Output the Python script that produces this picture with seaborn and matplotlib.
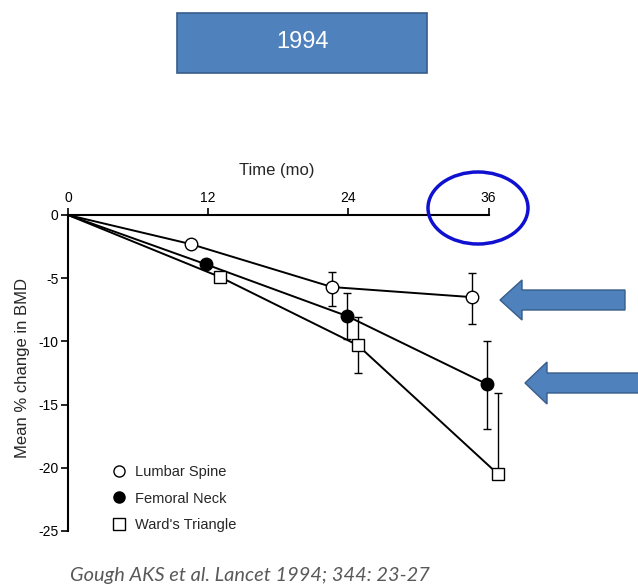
import numpy as np
import pandas as pd
import seaborn as sns
import matplotlib.pyplot as plt
from matplotlib.lines import Line2D
from matplotlib.patches import Ellipse, Polygon, Rectangle

sns.set_theme(style="white")
plt.rcParams['font.family'] = ['Liberation Sans', 'DejaVu Sans']
plt.rcParams['axes.unicode_minus'] = False

# values (months, mean % change)
series = ["Lumbar Spine", "Femoral Neck", "Ward's Triangle"]
lumbar_x = [0, 10.5, 22.6, 34.6]
lumbar_y = [0, -2.3, -5.7, -6.5]
femoral_x = [0, 11.8, 23.9, 35.9]
femoral_y = [0, -3.9, -8.0, -13.4]
wards_x = [0, 13.0, 24.8, 36.8]
wards_y = [0, -4.9, -10.3, -20.5]

# error bars (lower, upper) for each plotted point after the origin
lumbar_err_lo = [0, 1.5, 2.1]
lumbar_err_hi = [0, 1.2, 1.9]
femoral_err_lo = [0, 1.8, 3.5]
femoral_err_hi = [0, 1.8, 3.4]
wards_err_lo = [0, 2.2, 0]
wards_err_hi = [0, 2.2, 6.4]

x_ticks = [0, 12, 24, 36]
y_ticks = [0, -5, -10, -15, -20, -25]

df = pd.concat([
    pd.DataFrame({"time": lumbar_x, "change": lumbar_y, "site": series[0]}),
    pd.DataFrame({"time": femoral_x, "change": femoral_y, "site": series[1]}),
    pd.DataFrame({"time": wards_x, "change": wards_y, "site": series[2]}),
])

errs = {
    series[0]: (lumbar_err_lo, lumbar_err_hi),
    series[1]: (femoral_err_lo, femoral_err_hi),
    series[2]: (wards_err_lo, wards_err_hi),
}
styles = {
    series[0]: dict(marker="o", mfc="white", ms=9),
    series[1]: dict(marker="o", mfc="black", ms=9),
    series[2]: dict(marker="s", mfc="white", ms=8.5),
}

W, H = 638, 586
fig = plt.figure(figsize=(W / 100, H / 100), dpi=100)
ax = fig.add_axes([68 / W, 1 - 531 / H, (512 - 68) / W, (531 - 215) / H])

for name in series:
    sub = df[df.site == name]
    lo, hi = errs[name]
    ax.errorbar(sub.time.values[1:], sub.change.values[1:], yerr=[lo, hi],
                fmt="none", ecolor="black", elinewidth=1, capsize=3, capthick=1, zorder=2)
    st = styles[name]
    sns.lineplot(data=sub, x="time", y="change", ax=ax, color="black", lw=1.4,
                 marker=st["marker"], markersize=st["ms"], markerfacecolor=st["mfc"],
                 markeredgecolor="black", markeredgewidth=1, markevery=[1, 2, 3],
                 errorbar=None, zorder=3)

ax.set_xlim(0, 38)
ax.set_ylim(-25, 0)
ax.set_xticks(x_ticks)
ax.set_yticks(y_ticks)
ax.xaxis.tick_top()
ax.xaxis.set_label_position("top")
ax.set_xlabel("Time (mo)", fontsize=12)
ax.set_ylabel("Mean % change in BMD", fontsize=12)
ax.xaxis.set_label_coords(0.47, 1.125)
ax.yaxis.set_label_coords(-0.086, 0.516)
ax.tick_params(axis="both", direction="out", length=5, width=1.2, labelsize=10,
               color="black", labelcolor="black")
ax.tick_params(axis="x", top=True, bottom=False, pad=2)
ax.tick_params(axis="y", left=True, pad=2)
for s in ["right", "bottom"]:
    ax.spines[s].set_visible(False)
ax.spines["top"].set_bounds(0, 36)
ax.spines["left"].set_bounds(-25, 0)
for s in ["top", "left"]:
    ax.spines[s].set_color("black")
    ax.spines[s].set_linewidth(1.5)
ax.spines["top"].set_position(("data", 0))
ax.grid(False)

handles = [Line2D([], [], ls="none", color="black", marker=styles[n]["marker"],
                  mfc=styles[n]["mfc"], mec="black", ms=8) for n in series]
ax.legend(handles, series, loc="upper left", bbox_to_anchor=(0.07, 0.25),
          frameon=False, fontsize=10.5, handletextpad=0.55, labelspacing=0.85,
          handlelength=1.0)

# overlay in pixel coordinates for slide decorations
ov = fig.add_axes([0, 0, 1, 1], zorder=5)
ov.set_xlim(0, W)
ov.set_ylim(H, 0)
ov.axis("off")
ov.patch.set_alpha(0)

blue = "#4F81BD"
edge = "#385D8A"
ov.add_patch(Rectangle((177, 13), 250, 60, fc=blue, ec=edge, lw=1.2))
ov.text(302, 42, "1994", color="white", fontsize=17, ha="center", va="center",
        family=["Liberation Sans", "DejaVu Sans"])

ov.add_patch(Ellipse((478, 208), 100, 72, fill=False, ec="#1010D0", lw=2.5))


def left_arrow(tip_x, cy, tail_x, head_len=22, head_h=40, shaft_h=20):
    pts = [(tip_x, cy), (tip_x + head_len, cy - head_h / 2),
           (tip_x + head_len, cy - shaft_h / 2), (tail_x, cy - shaft_h / 2),
           (tail_x, cy + shaft_h / 2), (tip_x + head_len, cy + shaft_h / 2),
           (tip_x + head_len, cy + head_h / 2)]
    ov.add_patch(Polygon(pts, closed=True, fc=blue, ec=edge, lw=1))


left_arrow(500, 300, 625)
left_arrow(525, 383, 645, head_h=42)

ov.text(70, 575, "Gough AKS et al. Lancet 1994; 344: 23-27", color="#595959",
        fontsize=14.4, style="italic", ha="left", va="center",
        family=["Lato", "DejaVu Sans"])

fig.savefig("out.png", dpi=100)
